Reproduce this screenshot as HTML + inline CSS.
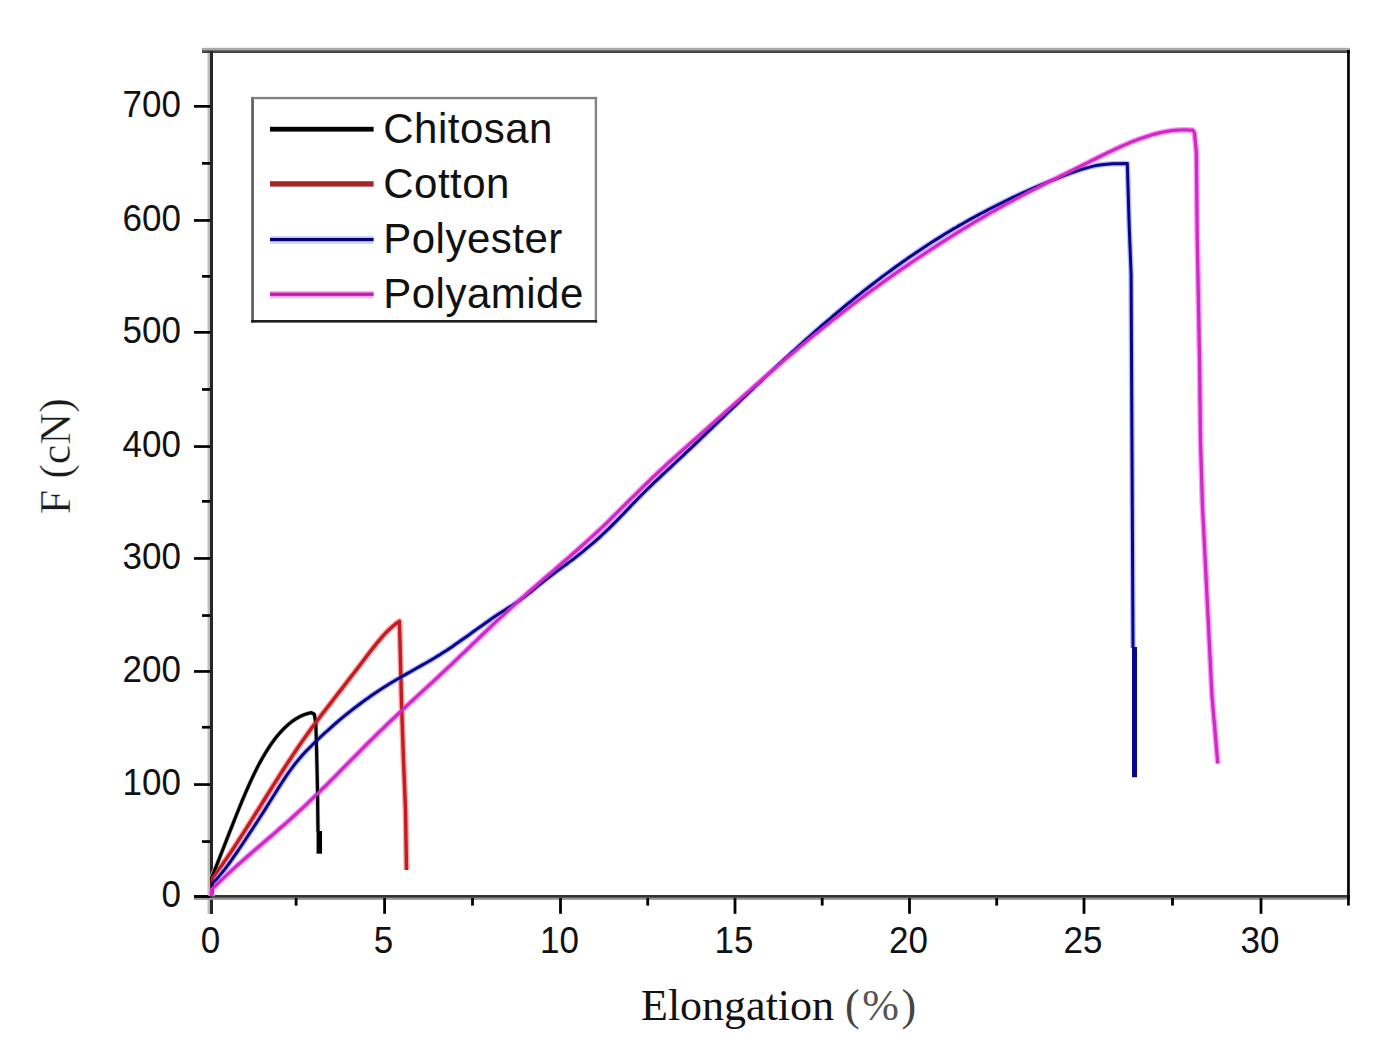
<!DOCTYPE html><html><head><meta charset="utf-8"><style>html,body{margin:0;padding:0;background:#fff;overflow:hidden}svg{display:block}</style></head><body>
<svg width="1379" height="1062" viewBox="0 0 1379 1062">
<rect width="1379" height="1062" fill="#fff"/>
<rect x="207.5" y="48" width="2.6" height="866" fill="#bdbdbd"/>
<rect x="210" y="50" width="3" height="864" fill="#262626"/>
<rect x="202" y="47.8" width="1148" height="2.2" fill="#aaa"/>
<rect x="202" y="50" width="1148" height="1.2" fill="#6a6a6a"/>
<rect x="202" y="51.2" width="1148" height="1.7" fill="#2a2a2a"/>
<rect x="194" y="895" width="1156" height="2.9" fill="#333"/>
<rect x="194" y="897.8" width="1156" height="2.1" fill="#9a9a9a"/>
<rect x="1347.1" y="50" width="2.7" height="855.6" fill="#000"/>
<rect x="194" y="895.1" width="16" height="2.7" fill="#000"/>
<rect x="194" y="783.2" width="16" height="2.7" fill="#000"/>
<rect x="194" y="670.1" width="16" height="2.7" fill="#000"/>
<rect x="194" y="557.1" width="16" height="2.7" fill="#000"/>
<rect x="194" y="445.2" width="16" height="2.7" fill="#000"/>
<rect x="194" y="331.0" width="16" height="2.7" fill="#000"/>
<rect x="194" y="219.1" width="16" height="2.7" fill="#000"/>
<rect x="194" y="105.0" width="16" height="2.7" fill="#000"/>
<rect x="202" y="840.2" width="8" height="2.7" fill="#000"/>
<rect x="202" y="725.9" width="8" height="2.7" fill="#000"/>
<rect x="202" y="614.2" width="8" height="2.7" fill="#000"/>
<rect x="202" y="500.0" width="8" height="2.7" fill="#000"/>
<rect x="202" y="388.1" width="8" height="2.7" fill="#000"/>
<rect x="202" y="275.0" width="8" height="2.7" fill="#000"/>
<rect x="202" y="162.0" width="8" height="2.7" fill="#000"/>
<rect x="383.2" y="898" width="2.8" height="15.8" fill="#000"/>
<rect x="559.1" y="898" width="2.8" height="15.8" fill="#000"/>
<rect x="733.6" y="898" width="2.8" height="15.8" fill="#000"/>
<rect x="908.1" y="898" width="2.8" height="15.8" fill="#000"/>
<rect x="1082.6" y="898" width="2.8" height="15.8" fill="#000"/>
<rect x="1259.6" y="898" width="2.8" height="15.8" fill="#000"/>
<rect x="294.7" y="898" width="2.8" height="7.6" fill="#000"/>
<rect x="471.1" y="898" width="2.8" height="7.6" fill="#000"/>
<rect x="646.3" y="898" width="2.8" height="7.6" fill="#000"/>
<rect x="820.8" y="898" width="2.8" height="7.6" fill="#000"/>
<rect x="995.3" y="898" width="2.8" height="7.6" fill="#000"/>
<rect x="1171.1" y="898" width="2.8" height="7.6" fill="#000"/>
<g fill="none" stroke-linejoin="round" stroke-linecap="butt">
<path d="M211.5 896.0 L211.6 877.6 L214.6 870.3 L217.6 862.8 L220.6 855.2 L223.6 847.6 L226.6 839.9 L229.6 832.2 L232.6 824.6 L235.6 817.0 L238.6 809.5 L241.6 802.2 L244.6 795.0 L247.6 788.1 L250.6 781.4 L253.6 775.0 L256.6 768.9 L259.6 763.1 L262.6 757.7 L265.6 752.6 L268.6 747.9 L271.6 743.4 L274.6 739.3 L277.6 735.5 L280.6 732.1 L283.6 728.9 L286.6 726.0 L289.6 723.4 L292.6 721.1 L295.6 719.0 L298.6 717.3 L301.6 715.8 L304.6 714.5 L307.6 713.6 L310.6 712.8 L311.3 712.7 L314.3 714.2 L315.8 723.3 L316.6 750.4 L317.5 790.0 L318.0 831.6" stroke="#c8c8c8" stroke-width="4.6"/>
<path d="M211.5 896.0 L212.5 877.9 L215.5 873.9 L218.5 869.8 L221.5 865.7 L224.5 861.4 L227.5 857.1 L230.5 852.6 L233.5 848.2 L236.5 843.6 L239.5 839.0 L242.5 834.4 L245.5 829.7 L248.5 825.0 L251.5 820.2 L254.5 815.4 L257.5 810.6 L260.5 805.8 L263.5 801.0 L266.5 796.2 L269.5 791.4 L272.5 786.6 L275.5 781.9 L278.5 777.1 L281.5 772.4 L284.5 767.8 L287.5 763.1 L290.5 758.6 L293.5 754.1 L296.5 749.6 L299.5 745.2 L302.5 740.9 L305.5 736.6 L308.5 732.4 L311.5 728.3 L314.5 724.2 L317.5 720.3 L320.5 716.3 L323.5 712.4 L326.5 708.5 L329.5 704.6 L332.5 700.7 L335.5 696.8 L338.5 692.9 L341.5 689.1 L344.5 685.2 L347.5 681.3 L350.5 677.4 L353.5 673.5 L356.5 669.6 L359.5 665.7 L362.5 661.7 L365.5 657.7 L368.5 653.8 L371.5 649.9 L374.5 646.1 L377.5 642.4 L380.5 638.8 L383.5 635.4 L386.5 632.2 L389.5 629.2 L392.5 626.5 L395.5 624.0 L398.5 621.9 L399.3 621.4 L399.4 621.3 L400.1 645.0 L401.6 705.0 L403.5 760.0 L405.5 810.0 L406.5 870.0" stroke="#ffa8a8" stroke-width="6"/>
<path d="M211.5 896.0 L212.5 883.2 L215.5 880.2 L218.5 876.9 L221.5 873.3 L224.5 869.6 L227.5 865.6 L230.5 861.5 L233.5 857.2 L236.5 852.9 L239.5 848.5 L242.5 844.0 L245.5 839.5 L248.5 834.9 L251.5 830.4 L254.5 825.8 L257.5 821.2 L260.5 816.5 L263.5 811.9 L266.5 807.1 L269.5 802.3 L272.5 797.5 L275.5 792.7 L278.5 787.9 L281.5 783.2 L284.5 778.6 L287.5 774.2 L290.5 770.0 L293.5 765.9 L296.5 762.1 L299.5 758.5 L302.5 755.1 L305.5 751.8 L308.5 748.7 L311.5 745.7 L314.5 742.7 L317.5 739.8 L320.5 737.0 L323.5 734.2 L326.5 731.5 L329.5 728.8 L332.5 726.1 L335.5 723.5 L338.5 720.9 L341.5 718.4 L344.5 715.9 L347.5 713.5 L350.5 711.1 L353.5 708.8 L356.5 706.5 L359.5 704.2 L362.5 702.0 L365.5 699.8 L368.5 697.7 L371.5 695.6 L374.5 693.5 L377.5 691.5 L380.5 689.5 L383.5 687.6 L386.5 685.7 L389.5 683.8 L392.5 682.0 L395.5 680.2 L398.5 678.5 L401.5 676.8 L404.5 675.1 L407.5 673.4 L410.5 671.7 L413.5 670.0 L416.5 668.3 L419.5 666.6 L422.5 664.9 L425.5 663.2 L428.5 661.5 L431.5 659.7 L434.5 658.0 L437.5 656.1 L440.5 654.3 L443.5 652.3 L446.5 650.4 L449.5 648.4 L452.5 646.4 L455.5 644.3 L458.5 642.2 L461.5 640.1 L464.5 638.0 L467.5 635.9 L470.5 633.7 L473.5 631.6 L476.5 629.4 L479.5 627.3 L482.5 625.2 L485.5 623.0 L488.5 620.9 L491.5 618.8 L494.5 616.7 L497.5 614.7 L500.5 612.8 L503.5 610.9 L506.5 609.0 L509.5 607.1 L512.5 605.3 L515.5 603.3 L518.5 601.2 L521.5 599.0 L524.5 596.8 L527.5 594.4 L530.5 592.1 L533.5 589.6 L536.5 587.2 L539.5 584.7 L542.5 582.3 L545.5 579.9 L548.5 577.5 L551.5 575.2 L554.5 573.0 L557.5 570.7 L560.5 568.6 L563.5 566.4 L566.5 564.2 L569.5 561.9 L572.5 559.7 L575.5 557.4 L578.5 555.0 L581.5 552.6 L584.5 550.2 L587.5 547.7 L590.5 545.2 L593.5 542.6 L596.5 540.0 L599.5 537.3 L602.5 534.5 L605.5 531.7 L608.5 528.9 L611.5 525.9 L614.5 522.9 L617.5 519.9 L620.5 516.8 L623.5 513.7 L626.5 510.5 L629.5 507.4 L632.5 504.2 L635.5 501.1 L638.5 498.0 L641.5 495.0 L644.5 492.0 L647.5 489.0 L650.5 486.1 L653.5 483.2 L656.5 480.4 L659.5 477.6 L662.5 474.7 L665.5 471.9 L668.5 469.1 L671.5 466.3 L674.5 463.5 L677.5 460.7 L680.5 457.9 L683.5 455.1 L686.5 452.2 L689.5 449.4 L692.5 446.6 L695.5 443.7 L698.5 440.8 L701.5 438.0 L704.5 435.1 L707.5 432.2 L710.5 429.3 L713.5 426.4 L716.5 423.6 L719.5 420.7 L722.5 417.8 L725.5 414.9 L728.5 412.0 L731.5 409.1 L734.5 406.3 L737.5 403.4 L740.5 400.5 L743.5 397.6 L746.5 394.8 L749.5 391.9 L752.5 389.1 L755.5 386.2 L758.5 383.4 L761.5 380.6 L764.5 377.7 L767.5 374.9 L770.5 372.1 L773.5 369.3 L776.5 366.5 L779.5 363.7 L782.5 361.0 L785.5 358.2 L788.5 355.5 L791.5 352.7 L794.5 350.0 L797.5 347.3 L800.5 344.6 L803.5 341.9 L806.5 339.2 L809.5 336.5 L812.5 333.9 L815.5 331.2 L818.5 328.6 L821.5 326.0 L824.5 323.4 L827.5 320.8 L830.5 318.3 L833.5 315.7 L836.5 313.2 L839.5 310.7 L842.5 308.2 L845.5 305.7 L848.5 303.2 L851.5 300.8 L854.5 298.4 L857.5 295.9 L860.5 293.6 L863.5 291.2 L866.5 288.8 L869.5 286.5 L872.5 284.2 L875.5 281.9 L878.5 279.6 L881.5 277.3 L884.5 275.1 L887.5 272.9 L890.5 270.7 L893.5 268.5 L896.5 266.3 L899.5 264.2 L902.5 262.0 L905.5 259.9 L908.5 257.8 L911.5 255.8 L914.5 253.7 L917.5 251.7 L920.5 249.7 L923.5 247.7 L926.5 245.7 L929.5 243.8 L932.5 241.8 L935.5 239.9 L938.5 238.1 L941.5 236.2 L944.5 234.3 L947.5 232.5 L950.5 230.7 L953.5 228.9 L956.5 227.2 L959.5 225.4 L962.5 223.7 L965.5 222.0 L968.5 220.3 L971.5 218.6 L974.5 217.0 L977.5 215.4 L980.5 213.8 L983.5 212.2 L986.5 210.6 L989.5 209.0 L992.5 207.5 L995.5 206.0 L998.5 204.5 L1001.5 203.0 L1004.5 201.5 L1007.5 200.0 L1010.5 198.6 L1013.5 197.2 L1016.5 195.8 L1019.5 194.4 L1022.5 193.0 L1025.5 191.7 L1028.5 190.3 L1031.5 189.0 L1034.5 187.7 L1037.5 186.4 L1040.5 185.1 L1043.5 183.9 L1046.5 182.6 L1049.5 181.4 L1052.5 180.2 L1055.5 179.0 L1058.5 177.8 L1061.5 176.6 L1064.5 175.4 L1067.5 174.3 L1070.5 173.2 L1073.5 172.1 L1076.5 171.1 L1079.5 170.1 L1082.5 169.1 L1085.5 168.2 L1088.5 167.4 L1091.5 166.6 L1094.5 165.9 L1097.5 165.3 L1104.0 164.4 L1112.0 163.8 L1127.3 163.6 L1129.2 226.0 L1131.1 274.0 L1132.0 448.6 L1133.0 648.0" stroke="#bcbcff" stroke-width="5.6"/>
<path d="M211.5 896.0 L211.6 889.3 L214.6 886.4 L217.6 883.5 L220.6 880.6 L223.6 877.8 L226.6 875.1 L229.6 872.3 L232.6 869.6 L235.6 866.9 L238.6 864.2 L241.6 861.6 L244.6 859.0 L247.6 856.3 L250.6 853.7 L253.6 851.1 L256.6 848.6 L259.6 846.0 L262.6 843.4 L265.6 840.8 L268.6 838.2 L271.6 835.7 L274.6 833.1 L277.6 830.5 L280.6 827.8 L283.6 825.2 L286.6 822.6 L289.6 819.9 L292.6 817.2 L295.6 814.5 L298.6 811.7 L301.6 809.0 L304.6 806.1 L307.6 803.3 L310.6 800.4 L313.6 797.5 L316.6 794.6 L319.6 791.7 L322.6 788.7 L325.6 785.8 L328.6 782.8 L331.6 779.8 L334.6 776.8 L337.6 773.8 L340.6 770.7 L343.6 767.7 L346.6 764.7 L349.6 761.6 L352.6 758.6 L355.6 755.6 L358.6 752.6 L361.6 749.5 L364.6 746.5 L367.6 743.5 L370.6 740.5 L373.6 737.6 L376.6 734.6 L379.6 731.7 L382.6 728.8 L385.6 725.9 L388.6 723.0 L391.6 720.1 L394.6 717.3 L397.6 714.5 L400.6 711.6 L403.6 708.8 L406.6 706.0 L409.6 703.2 L412.6 700.5 L415.6 697.7 L418.6 694.9 L421.6 692.1 L424.6 689.4 L427.6 686.6 L430.6 683.8 L433.6 681.1 L436.6 678.3 L439.6 675.5 L442.6 672.7 L445.6 669.9 L448.6 667.1 L451.6 664.3 L454.6 661.4 L457.6 658.6 L460.6 655.7 L463.6 652.9 L466.6 650.0 L469.6 647.1 L472.6 644.2 L475.6 641.3 L478.6 638.4 L481.6 635.5 L484.6 632.7 L487.6 629.8 L490.6 626.9 L493.6 624.1 L496.6 621.2 L499.6 618.4 L502.6 615.6 L505.6 612.8 L508.6 610.0 L511.6 607.3 L514.6 604.6 L517.6 601.9 L520.6 599.2 L523.6 596.6 L526.6 594.0 L529.6 591.3 L532.6 588.7 L535.6 586.1 L538.6 583.5 L541.6 580.9 L544.6 578.3 L547.6 575.8 L550.6 573.2 L553.6 570.6 L556.6 568.0 L559.6 565.4 L562.6 562.8 L565.6 560.2 L568.6 557.6 L571.6 555.0 L574.6 552.3 L577.6 549.7 L580.6 547.0 L583.6 544.3 L586.6 541.6 L589.6 538.9 L592.6 536.1 L595.6 533.4 L598.6 530.6 L601.6 527.8 L604.6 525.0 L607.6 522.1 L610.6 519.1 L613.6 516.2 L616.6 513.2 L619.6 510.2 L622.6 507.2 L625.6 504.2 L628.6 501.2 L631.6 498.2 L634.6 495.3 L637.6 492.3 L640.6 489.3 L643.6 486.4 L646.6 483.5 L649.6 480.6 L652.6 477.7 L655.6 474.9 L658.6 472.0 L661.6 469.3 L664.6 466.5 L667.6 463.7 L670.6 461.0 L673.6 458.3 L676.6 455.6 L679.6 452.9 L682.6 450.3 L685.6 447.6 L688.6 444.9 L691.6 442.3 L694.6 439.6 L697.6 437.0 L700.6 434.3 L703.6 431.6 L706.6 429.0 L709.6 426.3 L712.6 423.7 L715.6 421.0 L718.6 418.3 L721.6 415.7 L724.6 413.0 L727.6 410.3 L730.6 407.6 L733.6 405.0 L736.6 402.3 L739.6 399.6 L742.6 396.9 L745.6 394.2 L748.6 391.6 L751.6 388.9 L754.6 386.2 L757.6 383.6 L760.6 380.9 L763.6 378.2 L766.6 375.6 L769.6 373.0 L772.6 370.3 L775.6 367.7 L778.6 365.1 L781.6 362.5 L784.6 359.9 L787.6 357.3 L790.6 354.8 L793.6 352.2 L796.6 349.7 L799.6 347.1 L802.6 344.6 L805.6 342.1 L808.6 339.6 L811.6 337.1 L814.6 334.6 L817.6 332.2 L820.6 329.7 L823.6 327.3 L826.6 324.9 L829.6 322.5 L832.6 320.1 L835.6 317.7 L838.6 315.4 L841.6 313.0 L844.6 310.7 L847.6 308.4 L850.6 306.1 L853.6 303.8 L856.6 301.6 L859.6 299.3 L862.6 297.1 L865.6 294.9 L868.6 292.6 L871.6 290.4 L874.6 288.3 L877.6 286.1 L880.6 283.9 L883.6 281.8 L886.6 279.6 L889.6 277.5 L892.6 275.4 L895.6 273.3 L898.6 271.2 L901.6 269.2 L904.6 267.1 L907.6 265.1 L910.6 263.0 L913.6 261.0 L916.6 259.0 L919.6 257.0 L922.6 255.0 L925.6 253.0 L928.6 251.0 L931.6 249.1 L934.6 247.1 L937.6 245.2 L940.6 243.2 L943.6 241.3 L946.6 239.4 L949.6 237.5 L952.6 235.6 L955.6 233.7 L958.6 231.9 L961.6 230.0 L964.6 228.2 L967.6 226.3 L970.6 224.5 L973.6 222.7 L976.6 220.9 L979.6 219.2 L982.6 217.4 L985.6 215.6 L988.6 213.9 L991.6 212.2 L994.6 210.5 L997.6 208.8 L1000.6 207.1 L1003.6 205.4 L1006.6 203.7 L1009.6 202.1 L1012.6 200.5 L1015.6 198.8 L1018.6 197.3 L1021.6 195.7 L1024.6 194.1 L1027.6 192.5 L1030.6 191.0 L1033.6 189.5 L1036.6 188.0 L1039.6 186.5 L1042.6 185.0 L1045.6 183.5 L1048.6 182.0 L1051.6 180.6 L1054.6 179.1 L1057.6 177.7 L1060.6 176.2 L1063.6 174.7 L1066.6 173.3 L1069.6 171.8 L1072.6 170.3 L1075.6 168.8 L1078.6 167.3 L1081.6 165.8 L1084.6 164.3 L1087.6 162.8 L1090.6 161.2 L1093.6 159.7 L1096.6 158.2 L1099.6 156.7 L1102.6 155.2 L1105.6 153.8 L1108.6 152.3 L1111.6 150.9 L1114.6 149.5 L1117.6 148.1 L1120.6 146.7 L1123.6 145.4 L1126.6 144.1 L1129.6 142.8 L1132.6 141.6 L1135.6 140.4 L1138.6 139.3 L1141.6 138.2 L1144.6 137.2 L1147.6 136.2 L1150.6 135.3 L1153.6 134.4 L1156.6 133.6 L1159.6 132.9 L1162.6 132.2 L1165.6 131.6 L1168.6 131.1 L1171.6 130.7 L1174.6 130.4 L1177.6 130.1 L1180.6 130.0 L1183.6 129.9 L1186.6 129.9 L1189.6 130.1 L1190.0 130.1 L1192.7 130.2 L1194.5 133.0 L1196.3 152.0 L1197.3 241.9 L1199.5 357.4 L1200.5 440.0 L1202.4 504.0 L1205.6 568.0 L1208.8 632.0 L1212.0 696.0 L1217.8 763.5" stroke="#ff98ff" stroke-width="5.8"/>
<path d="M211.5 896.0 L211.6 877.6 L214.6 870.3 L217.6 862.8 L220.6 855.2 L223.6 847.6 L226.6 839.9 L229.6 832.2 L232.6 824.6 L235.6 817.0 L238.6 809.5 L241.6 802.2 L244.6 795.0 L247.6 788.1 L250.6 781.4 L253.6 775.0 L256.6 768.9 L259.6 763.1 L262.6 757.7 L265.6 752.6 L268.6 747.9 L271.6 743.4 L274.6 739.3 L277.6 735.5 L280.6 732.1 L283.6 728.9 L286.6 726.0 L289.6 723.4 L292.6 721.1 L295.6 719.0 L298.6 717.3 L301.6 715.8 L304.6 714.5 L307.6 713.6 L310.6 712.8 L311.3 712.7 L314.3 714.2 L315.8 723.3 L316.6 750.4 L317.5 790.0 L318.0 831.6" stroke="#000" stroke-width="3.2"/>
<path d="M319.3 831.0 L319.3 853.7" stroke="#000" stroke-width="5.5"/>
<path d="M211.5 896.0 L212.5 877.9 L215.5 873.9 L218.5 869.8 L221.5 865.7 L224.5 861.4 L227.5 857.1 L230.5 852.6 L233.5 848.2 L236.5 843.6 L239.5 839.0 L242.5 834.4 L245.5 829.7 L248.5 825.0 L251.5 820.2 L254.5 815.4 L257.5 810.6 L260.5 805.8 L263.5 801.0 L266.5 796.2 L269.5 791.4 L272.5 786.6 L275.5 781.9 L278.5 777.1 L281.5 772.4 L284.5 767.8 L287.5 763.1 L290.5 758.6 L293.5 754.1 L296.5 749.6 L299.5 745.2 L302.5 740.9 L305.5 736.6 L308.5 732.4 L311.5 728.3 L314.5 724.2 L317.5 720.3 L320.5 716.3 L323.5 712.4 L326.5 708.5 L329.5 704.6 L332.5 700.7 L335.5 696.8 L338.5 692.9 L341.5 689.1 L344.5 685.2 L347.5 681.3 L350.5 677.4 L353.5 673.5 L356.5 669.6 L359.5 665.7 L362.5 661.7 L365.5 657.7 L368.5 653.8 L371.5 649.9 L374.5 646.1 L377.5 642.4 L380.5 638.8 L383.5 635.4 L386.5 632.2 L389.5 629.2 L392.5 626.5 L395.5 624.0 L398.5 621.9 L399.3 621.4 L399.4 621.3 L400.1 645.0 L401.6 705.0 L403.5 760.0 L405.5 810.0 L406.5 870.0" stroke="#c41c22" stroke-width="3.4"/>
<path d="M211.5 896.0 L212.5 883.2 L215.5 880.2 L218.5 876.9 L221.5 873.3 L224.5 869.6 L227.5 865.6 L230.5 861.5 L233.5 857.2 L236.5 852.9 L239.5 848.5 L242.5 844.0 L245.5 839.5 L248.5 834.9 L251.5 830.4 L254.5 825.8 L257.5 821.2 L260.5 816.5 L263.5 811.9 L266.5 807.1 L269.5 802.3 L272.5 797.5 L275.5 792.7 L278.5 787.9 L281.5 783.2 L284.5 778.6 L287.5 774.2 L290.5 770.0 L293.5 765.9 L296.5 762.1 L299.5 758.5 L302.5 755.1 L305.5 751.8 L308.5 748.7 L311.5 745.7 L314.5 742.7 L317.5 739.8 L320.5 737.0 L323.5 734.2 L326.5 731.5 L329.5 728.8 L332.5 726.1 L335.5 723.5 L338.5 720.9 L341.5 718.4 L344.5 715.9 L347.5 713.5 L350.5 711.1 L353.5 708.8 L356.5 706.5 L359.5 704.2 L362.5 702.0 L365.5 699.8 L368.5 697.7 L371.5 695.6 L374.5 693.5 L377.5 691.5 L380.5 689.5 L383.5 687.6 L386.5 685.7 L389.5 683.8 L392.5 682.0 L395.5 680.2 L398.5 678.5 L401.5 676.8 L404.5 675.1 L407.5 673.4 L410.5 671.7 L413.5 670.0 L416.5 668.3 L419.5 666.6 L422.5 664.9 L425.5 663.2 L428.5 661.5 L431.5 659.7 L434.5 658.0 L437.5 656.1 L440.5 654.3 L443.5 652.3 L446.5 650.4 L449.5 648.4 L452.5 646.4 L455.5 644.3 L458.5 642.2 L461.5 640.1 L464.5 638.0 L467.5 635.9 L470.5 633.7 L473.5 631.6 L476.5 629.4 L479.5 627.3 L482.5 625.2 L485.5 623.0 L488.5 620.9 L491.5 618.8 L494.5 616.7 L497.5 614.7 L500.5 612.8 L503.5 610.9 L506.5 609.0 L509.5 607.1 L512.5 605.3 L515.5 603.3 L518.5 601.2 L521.5 599.0 L524.5 596.8 L527.5 594.4 L530.5 592.1 L533.5 589.6 L536.5 587.2 L539.5 584.7 L542.5 582.3 L545.5 579.9 L548.5 577.5 L551.5 575.2 L554.5 573.0 L557.5 570.7 L560.5 568.6 L563.5 566.4 L566.5 564.2 L569.5 561.9 L572.5 559.7 L575.5 557.4 L578.5 555.0 L581.5 552.6 L584.5 550.2 L587.5 547.7 L590.5 545.2 L593.5 542.6 L596.5 540.0 L599.5 537.3 L602.5 534.5 L605.5 531.7 L608.5 528.9 L611.5 525.9 L614.5 522.9 L617.5 519.9 L620.5 516.8 L623.5 513.7 L626.5 510.5 L629.5 507.4 L632.5 504.2 L635.5 501.1 L638.5 498.0 L641.5 495.0 L644.5 492.0 L647.5 489.0 L650.5 486.1 L653.5 483.2 L656.5 480.4 L659.5 477.6 L662.5 474.7 L665.5 471.9 L668.5 469.1 L671.5 466.3 L674.5 463.5 L677.5 460.7 L680.5 457.9 L683.5 455.1 L686.5 452.2 L689.5 449.4 L692.5 446.6 L695.5 443.7 L698.5 440.8 L701.5 438.0 L704.5 435.1 L707.5 432.2 L710.5 429.3 L713.5 426.4 L716.5 423.6 L719.5 420.7 L722.5 417.8 L725.5 414.9 L728.5 412.0 L731.5 409.1 L734.5 406.3 L737.5 403.4 L740.5 400.5 L743.5 397.6 L746.5 394.8 L749.5 391.9 L752.5 389.1 L755.5 386.2 L758.5 383.4 L761.5 380.6 L764.5 377.7 L767.5 374.9 L770.5 372.1 L773.5 369.3 L776.5 366.5 L779.5 363.7 L782.5 361.0 L785.5 358.2 L788.5 355.5 L791.5 352.7 L794.5 350.0 L797.5 347.3 L800.5 344.6 L803.5 341.9 L806.5 339.2 L809.5 336.5 L812.5 333.9 L815.5 331.2 L818.5 328.6 L821.5 326.0 L824.5 323.4 L827.5 320.8 L830.5 318.3 L833.5 315.7 L836.5 313.2 L839.5 310.7 L842.5 308.2 L845.5 305.7 L848.5 303.2 L851.5 300.8 L854.5 298.4 L857.5 295.9 L860.5 293.6 L863.5 291.2 L866.5 288.8 L869.5 286.5 L872.5 284.2 L875.5 281.9 L878.5 279.6 L881.5 277.3 L884.5 275.1 L887.5 272.9 L890.5 270.7 L893.5 268.5 L896.5 266.3 L899.5 264.2 L902.5 262.0 L905.5 259.9 L908.5 257.8 L911.5 255.8 L914.5 253.7 L917.5 251.7 L920.5 249.7 L923.5 247.7 L926.5 245.7 L929.5 243.8 L932.5 241.8 L935.5 239.9 L938.5 238.1 L941.5 236.2 L944.5 234.3 L947.5 232.5 L950.5 230.7 L953.5 228.9 L956.5 227.2 L959.5 225.4 L962.5 223.7 L965.5 222.0 L968.5 220.3 L971.5 218.6 L974.5 217.0 L977.5 215.4 L980.5 213.8 L983.5 212.2 L986.5 210.6 L989.5 209.0 L992.5 207.5 L995.5 206.0 L998.5 204.5 L1001.5 203.0 L1004.5 201.5 L1007.5 200.0 L1010.5 198.6 L1013.5 197.2 L1016.5 195.8 L1019.5 194.4 L1022.5 193.0 L1025.5 191.7 L1028.5 190.3 L1031.5 189.0 L1034.5 187.7 L1037.5 186.4 L1040.5 185.1 L1043.5 183.9 L1046.5 182.6 L1049.5 181.4 L1052.5 180.2 L1055.5 179.0 L1058.5 177.8 L1061.5 176.6 L1064.5 175.4 L1067.5 174.3 L1070.5 173.2 L1073.5 172.1 L1076.5 171.1 L1079.5 170.1 L1082.5 169.1 L1085.5 168.2 L1088.5 167.4 L1091.5 166.6 L1094.5 165.9 L1097.5 165.3 L1104.0 164.4 L1112.0 163.8 L1127.3 163.6 L1129.2 226.0 L1131.1 274.0 L1132.0 448.6 L1133.0 648.0" stroke="#06068a" stroke-width="3.0"/>
<path d="M1134.5 647.0 L1134.5 777.3" stroke="#06068a" stroke-width="5"/>
<path d="M211.5 896.0 L211.6 889.3 L214.6 886.4 L217.6 883.5 L220.6 880.6 L223.6 877.8 L226.6 875.1 L229.6 872.3 L232.6 869.6 L235.6 866.9 L238.6 864.2 L241.6 861.6 L244.6 859.0 L247.6 856.3 L250.6 853.7 L253.6 851.1 L256.6 848.6 L259.6 846.0 L262.6 843.4 L265.6 840.8 L268.6 838.2 L271.6 835.7 L274.6 833.1 L277.6 830.5 L280.6 827.8 L283.6 825.2 L286.6 822.6 L289.6 819.9 L292.6 817.2 L295.6 814.5 L298.6 811.7 L301.6 809.0 L304.6 806.1 L307.6 803.3 L310.6 800.4 L313.6 797.5 L316.6 794.6 L319.6 791.7 L322.6 788.7 L325.6 785.8 L328.6 782.8 L331.6 779.8 L334.6 776.8 L337.6 773.8 L340.6 770.7 L343.6 767.7 L346.6 764.7 L349.6 761.6 L352.6 758.6 L355.6 755.6 L358.6 752.6 L361.6 749.5 L364.6 746.5 L367.6 743.5 L370.6 740.5 L373.6 737.6 L376.6 734.6 L379.6 731.7 L382.6 728.8 L385.6 725.9 L388.6 723.0 L391.6 720.1 L394.6 717.3 L397.6 714.5 L400.6 711.6 L403.6 708.8 L406.6 706.0 L409.6 703.2 L412.6 700.5 L415.6 697.7 L418.6 694.9 L421.6 692.1 L424.6 689.4 L427.6 686.6 L430.6 683.8 L433.6 681.1 L436.6 678.3 L439.6 675.5 L442.6 672.7 L445.6 669.9 L448.6 667.1 L451.6 664.3 L454.6 661.4 L457.6 658.6 L460.6 655.7 L463.6 652.9 L466.6 650.0 L469.6 647.1 L472.6 644.2 L475.6 641.3 L478.6 638.4 L481.6 635.5 L484.6 632.7 L487.6 629.8 L490.6 626.9 L493.6 624.1 L496.6 621.2 L499.6 618.4 L502.6 615.6 L505.6 612.8 L508.6 610.0 L511.6 607.3 L514.6 604.6 L517.6 601.9 L520.6 599.2 L523.6 596.6 L526.6 594.0 L529.6 591.3 L532.6 588.7 L535.6 586.1 L538.6 583.5 L541.6 580.9 L544.6 578.3 L547.6 575.8 L550.6 573.2 L553.6 570.6 L556.6 568.0 L559.6 565.4 L562.6 562.8 L565.6 560.2 L568.6 557.6 L571.6 555.0 L574.6 552.3 L577.6 549.7 L580.6 547.0 L583.6 544.3 L586.6 541.6 L589.6 538.9 L592.6 536.1 L595.6 533.4 L598.6 530.6 L601.6 527.8 L604.6 525.0 L607.6 522.1 L610.6 519.1 L613.6 516.2 L616.6 513.2 L619.6 510.2 L622.6 507.2 L625.6 504.2 L628.6 501.2 L631.6 498.2 L634.6 495.3 L637.6 492.3 L640.6 489.3 L643.6 486.4 L646.6 483.5 L649.6 480.6 L652.6 477.7 L655.6 474.9 L658.6 472.0 L661.6 469.3 L664.6 466.5 L667.6 463.7 L670.6 461.0 L673.6 458.3 L676.6 455.6 L679.6 452.9 L682.6 450.3 L685.6 447.6 L688.6 444.9 L691.6 442.3 L694.6 439.6 L697.6 437.0 L700.6 434.3 L703.6 431.6 L706.6 429.0 L709.6 426.3 L712.6 423.7 L715.6 421.0 L718.6 418.3 L721.6 415.7 L724.6 413.0 L727.6 410.3 L730.6 407.6 L733.6 405.0 L736.6 402.3 L739.6 399.6 L742.6 396.9 L745.6 394.2 L748.6 391.6 L751.6 388.9 L754.6 386.2 L757.6 383.6 L760.6 380.9 L763.6 378.2 L766.6 375.6 L769.6 373.0 L772.6 370.3 L775.6 367.7 L778.6 365.1 L781.6 362.5 L784.6 359.9 L787.6 357.3 L790.6 354.8 L793.6 352.2 L796.6 349.7 L799.6 347.1 L802.6 344.6 L805.6 342.1 L808.6 339.6 L811.6 337.1 L814.6 334.6 L817.6 332.2 L820.6 329.7 L823.6 327.3 L826.6 324.9 L829.6 322.5 L832.6 320.1 L835.6 317.7 L838.6 315.4 L841.6 313.0 L844.6 310.7 L847.6 308.4 L850.6 306.1 L853.6 303.8 L856.6 301.6 L859.6 299.3 L862.6 297.1 L865.6 294.9 L868.6 292.6 L871.6 290.4 L874.6 288.3 L877.6 286.1 L880.6 283.9 L883.6 281.8 L886.6 279.6 L889.6 277.5 L892.6 275.4 L895.6 273.3 L898.6 271.2 L901.6 269.2 L904.6 267.1 L907.6 265.1 L910.6 263.0 L913.6 261.0 L916.6 259.0 L919.6 257.0 L922.6 255.0 L925.6 253.0 L928.6 251.0 L931.6 249.1 L934.6 247.1 L937.6 245.2 L940.6 243.2 L943.6 241.3 L946.6 239.4 L949.6 237.5 L952.6 235.6 L955.6 233.7 L958.6 231.9 L961.6 230.0 L964.6 228.2 L967.6 226.3 L970.6 224.5 L973.6 222.7 L976.6 220.9 L979.6 219.2 L982.6 217.4 L985.6 215.6 L988.6 213.9 L991.6 212.2 L994.6 210.5 L997.6 208.8 L1000.6 207.1 L1003.6 205.4 L1006.6 203.7 L1009.6 202.1 L1012.6 200.5 L1015.6 198.8 L1018.6 197.3 L1021.6 195.7 L1024.6 194.1 L1027.6 192.5 L1030.6 191.0 L1033.6 189.5 L1036.6 188.0 L1039.6 186.5 L1042.6 185.0 L1045.6 183.5 L1048.6 182.0 L1051.6 180.6 L1054.6 179.1 L1057.6 177.7 L1060.6 176.2 L1063.6 174.7 L1066.6 173.3 L1069.6 171.8 L1072.6 170.3 L1075.6 168.8 L1078.6 167.3 L1081.6 165.8 L1084.6 164.3 L1087.6 162.8 L1090.6 161.2 L1093.6 159.7 L1096.6 158.2 L1099.6 156.7 L1102.6 155.2 L1105.6 153.8 L1108.6 152.3 L1111.6 150.9 L1114.6 149.5 L1117.6 148.1 L1120.6 146.7 L1123.6 145.4 L1126.6 144.1 L1129.6 142.8 L1132.6 141.6 L1135.6 140.4 L1138.6 139.3 L1141.6 138.2 L1144.6 137.2 L1147.6 136.2 L1150.6 135.3 L1153.6 134.4 L1156.6 133.6 L1159.6 132.9 L1162.6 132.2 L1165.6 131.6 L1168.6 131.1 L1171.6 130.7 L1174.6 130.4 L1177.6 130.1 L1180.6 130.0 L1183.6 129.9 L1186.6 129.9 L1189.6 130.1 L1190.0 130.1 L1192.7 130.2 L1194.5 133.0 L1196.3 152.0 L1197.3 241.9 L1199.5 357.4 L1200.5 440.0 L1202.4 504.0 L1205.6 568.0 L1208.8 632.0 L1212.0 696.0 L1217.8 763.5" stroke="#cc2cc0" stroke-width="3.2"/>
</g>
<g font-family="Liberation Sans, sans-serif" font-size="35" fill="#111">
<text transform="translate(181.0,907.10) scale(1,1.07)" text-anchor="end">0</text>
<text transform="translate(181.0,795.20) scale(1,1.07)" text-anchor="end">100</text>
<text transform="translate(181.0,682.10) scale(1,1.07)" text-anchor="end">200</text>
<text transform="translate(181.0,569.10) scale(1,1.07)" text-anchor="end">300</text>
<text transform="translate(181.0,457.20) scale(1,1.07)" text-anchor="end">400</text>
<text transform="translate(181.0,343.00) scale(1,1.07)" text-anchor="end">500</text>
<text transform="translate(181.0,231.00) scale(1,1.07)" text-anchor="end">600</text>
<text transform="translate(181.0,116.90) scale(1,1.07)" text-anchor="end">700</text>
<text transform="translate(210.5,952.8) scale(1,1.04)" text-anchor="middle">0</text>
<text transform="translate(383.6,952.8) scale(1,1.04)" text-anchor="middle">5</text>
<text transform="translate(559.5,952.8) scale(1,1.04)" text-anchor="middle">10</text>
<text transform="translate(734.0,952.8) scale(1,1.04)" text-anchor="middle">15</text>
<text transform="translate(908.5,952.8) scale(1,1.04)" text-anchor="middle">20</text>
<text transform="translate(1083.0,952.8) scale(1,1.04)" text-anchor="middle">25</text>
<text transform="translate(1260.0,952.8) scale(1,1.04)" text-anchor="middle">30</text>
</g>
<text x="641" y="1020" font-family="Liberation Serif, serif" font-size="44" fill="#111">Elongation <tspan fill="#444">(</tspan><tspan dx="2.6" fill="#555">%</tspan><tspan dx="2.4" fill="#444">)</tspan></text>
<text transform="translate(70,514.3) rotate(-90)" font-family="Liberation Serif, serif" font-size="44" fill="#1a1a1a" stroke="#fff" stroke-width="0.4">F (cN)</text>
<rect x="252.5" y="98" width="343.4" height="223.2" fill="#fff" stroke="none"/>
<rect x="251.2" y="96.9" width="2.7" height="225.7" fill="#5f5f5f"/>
<rect x="251.2" y="96.9" width="345.9" height="2.3" fill="#808080"/>
<rect x="594.7" y="96.9" width="2.4" height="225.7" fill="#858585"/>
<rect x="251.2" y="320" width="345.9" height="2.6" fill="#1e1e1e"/>
<rect x="270" y="236" width="103.6" height="8" fill="#d4d4ff"/>
<rect x="270" y="291" width="103.6" height="7.2" fill="#ffa8ff"/>
<rect x="270" y="126.8" width="103.6" height="4.8" fill="#000"/>
<rect x="270" y="181.2" width="103.6" height="5.4" fill="#a4282a"/>
<rect x="270" y="237.9" width="103.6" height="3.3" fill="#000070"/>
<rect x="270" y="292.6" width="103.6" height="3.3" fill="#c020a8"/>
<g font-family="Liberation Sans, sans-serif" font-size="42" fill="#111" letter-spacing="0.5">
<text x="383.2" y="143.0">Chitosan</text>
<text x="383.2" y="197.7">Cotton</text>
<text x="383.2" y="253.4">Polyester</text>
<text x="383.2" y="308.0">Polyamide</text>
</g>
</svg></body></html>
